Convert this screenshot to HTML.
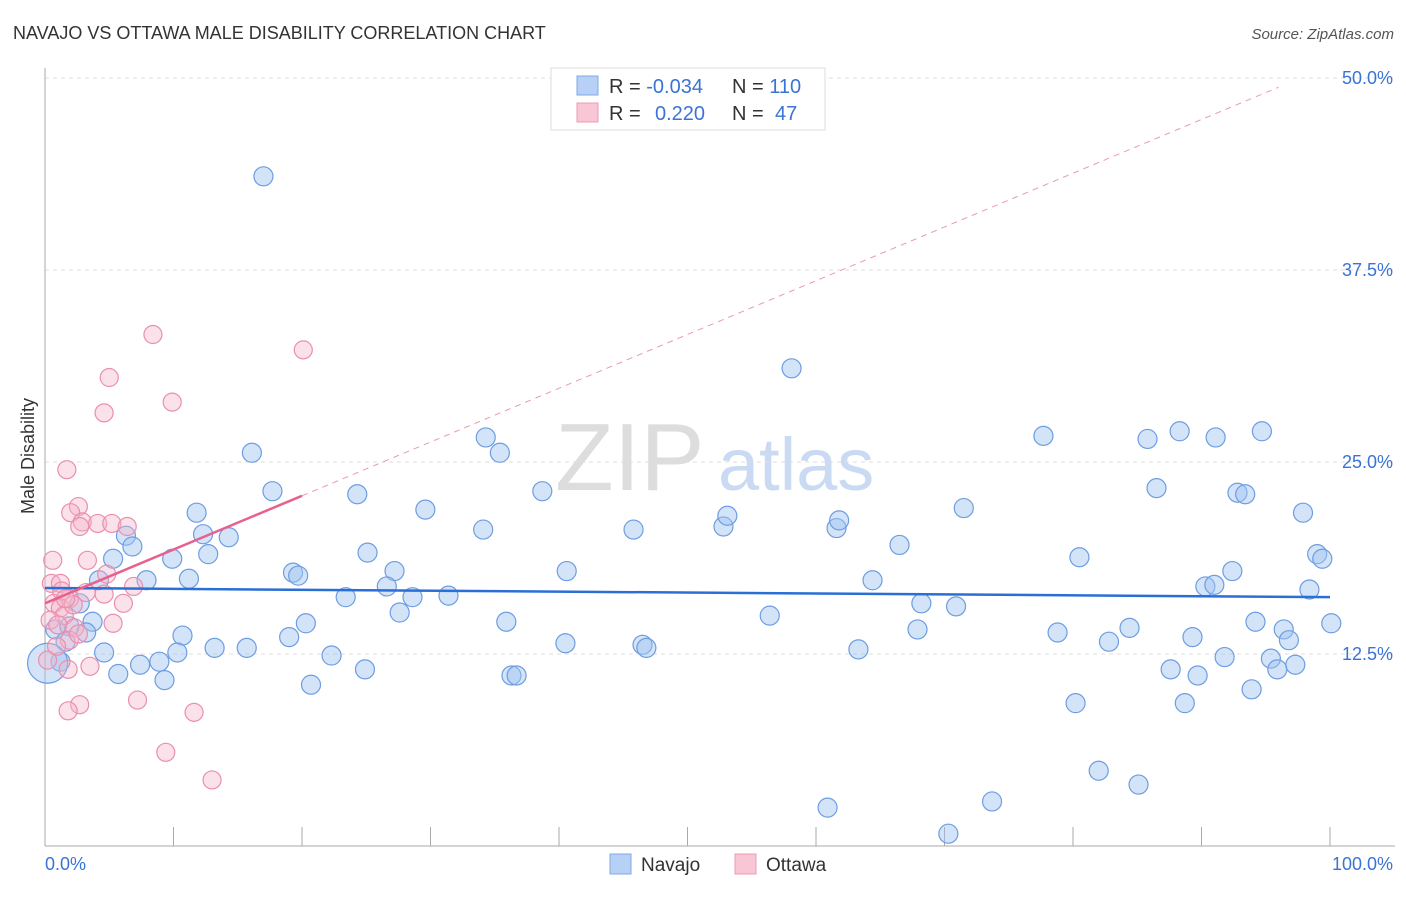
<!DOCTYPE html>
<html><head><meta charset="utf-8"><style>
body{margin:0;background:#fff;font-family:"Liberation Sans",sans-serif;}
svg text{font-family:"Liberation Sans",sans-serif;}
</style></head><body>
<svg id="chart" width="1406" height="892" xmlns="http://www.w3.org/2000/svg">
<text x="13" y="39" font-size="18" fill="#333">NAVAJO VS OTTAWA MALE DISABILITY CORRELATION CHART</text>
<text x="1394" y="39" font-size="15" fill="#555" font-style="italic" text-anchor="end">Source: ZipAtlas.com</text>
<g>
<text x="555" y="490" font-size="96" fill="#ddd" font-family="Liberation Serif,serif">ZIP</text>
<text x="718" y="490" font-size="74" fill="#c9daf2">atlas</text>
</g>
<g id="grid"></g><g id="axes"></g><g id="points"></g><g id="trend"></g>
<text transform="translate(34,456) rotate(-90)" font-size="18" fill="#333" text-anchor="middle">Male Disability</text>
<text x="45" y="870" font-size="18" fill="#3a73d6">0.0%</text>
<text x="1393" y="870" font-size="18" fill="#3a73d6" text-anchor="end">100.0%</text>
<g>
<rect x="551" y="68" width="274" height="62" fill="#fff" stroke="#ddd"/>
<rect x="577" y="76" width="21" height="19" fill="#b7d0f5" stroke="#7fa8e6"/>
<rect x="577" y="103" width="21" height="19" fill="#f9c6d5" stroke="#ec9bb5"/>
<text x="609" y="93" font-size="20" fill="#333">R = <tspan fill="#3a73d6">-0.034</tspan><tspan x="732">N = </tspan><tspan fill="#3a73d6">110</tspan></text>
<text x="609" y="120" font-size="20" fill="#333">R = <tspan x="655" fill="#3a73d6">0.220</tspan><tspan x="732">N = </tspan><tspan x="775" fill="#3a73d6">47</tspan></text>
</g>
<g>
<rect x="610" y="854" width="21" height="20" fill="#b7d0f5" stroke="#7fa8e6"/>
<text x="641" y="871" font-size="19" fill="#333">Navajo</text>
<rect x="735" y="854" width="21" height="20" fill="#f9c6d5" stroke="#ec9bb5"/>
<text x="766" y="871" font-size="19" fill="#333">Ottawa</text>
</g>
</svg>
<script>
const yTicks=[12.5,25,37.5,50];
const yTickLabels=["12.5%","25.0%","37.5%","50.0%"];
const navajoX=[17.0,58.1,16.1,34.3,35.4,17.7,24.3,38.7,29.6,11.8,34.1,12.3,14.3,6.3,6.8,12.7,5.3,9.9,25.1,40.6,27.2,19.3,19.7,11.2,7.9,4.2,26.6,23.4,28.6,31.4,2.7,27.6,20.3,3.7,0.8,3.2,1.9,10.7,19.0,1.6,4.6,10.3,13.2,15.7,22.3,1.2,0.2,7.4,8.9,5.7,9.3,20.7,24.9,35.9,36.3,36.7,40.5,46.5,46.8,45.8,52.8,53.1,61.6,61.8,56.4,64.4,66.5,71.5,68.2,70.9,67.9,63.3,77.7,80.5,78.8,80.2,82.8,84.4,82.0,85.1,85.8,88.3,91.1,94.7,86.5,92.8,93.4,97.9,99.0,99.4,90.3,91.0,92.4,98.4,94.2,96.4,96.8,100.1,89.3,91.8,95.4,95.9,97.3,87.6,89.7,88.7,93.9,60.9,73.7,70.3];
const navajoY=[43.6,31.1,25.6,26.6,25.6,23.1,22.9,23.1,21.9,21.7,20.6,20.3,20.1,20.2,19.5,19.0,18.7,18.7,19.1,17.9,17.9,17.8,17.6,17.4,17.3,17.3,16.9,16.2,16.2,16.3,15.8,15.2,14.5,14.6,14.1,13.9,14.3,13.7,13.6,13.3,12.6,12.6,12.9,12.9,12.4,12.0,11.9,11.8,12.0,11.2,10.8,10.5,11.5,14.6,11.1,11.1,13.2,13.1,12.9,20.6,20.8,21.5,20.7,21.2,15.0,17.3,19.6,22.0,15.8,15.6,14.1,12.8,26.7,18.8,13.9,9.3,13.3,14.2,4.9,4.0,26.5,27.0,26.6,27.0,23.3,23.0,22.9,21.7,19.0,18.7,16.9,17.0,17.9,16.7,14.6,14.1,13.4,14.5,13.6,12.3,12.2,11.5,11.8,11.5,11.1,9.3,10.2,2.5,2.9,0.8];
const ottawaX=[8.4,20.1,5.0,9.9,4.6,1.7,2.6,2.0,2.9,2.7,4.1,5.2,6.4,0.6,3.3,4.8,0.5,1.2,6.9,3.2,4.6,1.9,0.7,1.2,6.1,1.5,0.4,5.3,1.0,2.3,1.9,0.2,3.5,1.8,2.7,1.8,7.2,11.6,9.4,13.0,2.2,1.3,0.9,2.6,1.6];
const ottawaY=[33.3,32.3,30.5,28.9,28.2,24.5,22.1,21.7,21.1,20.8,21.0,21.0,20.8,18.6,18.6,17.7,17.1,17.1,16.9,16.5,16.4,16.1,15.8,15.5,15.8,15.0,14.7,14.5,14.4,14.2,13.4,12.1,11.7,11.5,9.2,8.8,9.5,8.7,6.1,4.3,15.7,16.6,13.0,13.8,16.1];
const navajoTrend=[16.8,16.2];
const ottawaTrend=[15.8,0.35];
const X0=45,X1=1330,Y0=846,YPX=15.36;
const sx=v=>X0+(X1-X0)*v/100, sy=v=>Y0-v*YPX;
const NS="http://www.w3.org/2000/svg";
function mk(t,a,p){const e=document.createElementNS(NS,t);for(const k in a)e.setAttribute(k,a[k]);p.appendChild(e);return e;}
const grid=document.getElementById('grid'),axes=document.getElementById('axes'),pts=document.getElementById('points'),tr=document.getElementById('trend');
yTicks.forEach((t,i)=>{
 const l=mk('line',{x1:45,x2:1395,y1:sy(t),y2:sy(t),stroke:'#ddd','stroke-dasharray':'4,4'},grid);
 
 
 const tx=mk('text',{x:1393,y:sy(t)+6,'font-size':18,fill:'#3a73d6','text-anchor':'end'},grid);
 tx.textContent=yTickLabels[i];
 
 
});
const ya=mk('line',{x1:45,x2:45,y1:68,y2:846,stroke:'#aaa'},axes);


const xa=mk('line',{x1:45,x2:1395,y1:846,y2:846,stroke:'#aaa'},axes);


for(let i=1;i<=10;i++){
 const t=mk('line',{x1:sx(i*10),x2:sx(i*10),y1:827,y2:846,stroke:'#aaa'},axes);
 
 
}
navajoX.forEach((x,i)=>{
 const big=(x<0.5&&navajoY[i]<12.5);
 const c=mk('circle',{cx:sx(x),cy:sy(navajoY[i]),r:big?20:9.5,fill:'rgba(160,195,240,0.45)',stroke:'#6d9de2','stroke-width':1.2},pts);
 
 
});
ottawaX.forEach((x,i)=>{
 const c=mk('circle',{cx:sx(x),cy:sy(ottawaY[i]),r:9,fill:'rgba(246,180,200,0.4)',stroke:'#ea8fae','stroke-width':1.2},pts);
 
 
});
const bl=mk('line',{x1:sx(0),y1:sy(navajoTrend[0]),x2:sx(100),y2:sy(navajoTrend[1]),stroke:'#2a6fd6','stroke-width':2.5},tr);


const oy=x=>ottawaTrend[0]+ottawaTrend[1]*x;
const od=mk('line',{x1:sx(20),y1:sy(oy(20)),x2:sx(96),y2:sy(oy(96)),stroke:'#e99ab3','stroke-width':1,'stroke-dasharray':'6,5'},tr);


const ol=mk('line',{x1:sx(0),y1:sy(oy(0)),x2:sx(20),y2:sy(oy(20)),stroke:'#e6628d','stroke-width':2.5},tr);


</script>
</body></html>
